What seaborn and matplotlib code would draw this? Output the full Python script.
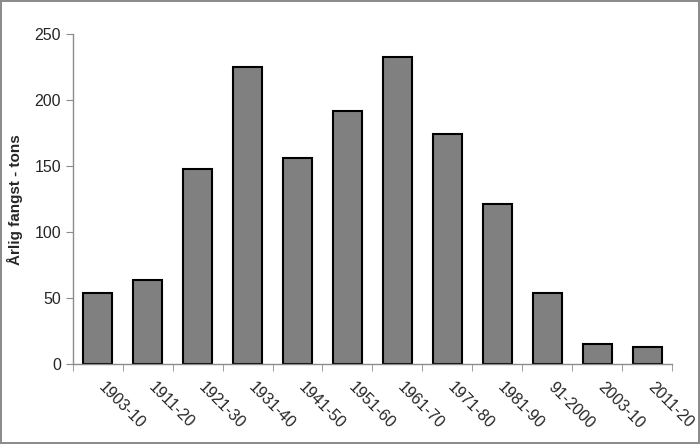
import numpy as np
import pandas as pd
import seaborn as sns
import matplotlib.pyplot as plt
import matplotlib.transforms as mtransforms
from matplotlib.ticker import FixedLocator

periods = ["1903-10", "1911-20", "1921-30", "1931-40", "1941-50", "1951-60",
           "1961-70", "1971-80", "1981-90", "91-2000", "2003-10", "2011-20"]
catch_tons = [54, 64, 148, 225, 156, 192, 233, 174, 121, 54, 15, 13]

df = pd.DataFrame({"periode": periods, "fangst": catch_tons})

sns.set_style("white")
plt.rcParams["font.family"] = ["Liberation Sans", "DejaVu Sans"]

fig = plt.figure(figsize=(7, 4.44), dpi=100, edgecolor="#8c8c8c", linewidth=1.5)
ax = fig.add_axes([0.104, 0.180, 0.856, 0.743])

sns.barplot(data=df, x="periode", y="fangst", color="#808080", saturation=1,
            edgecolor="black", linewidth=1.5, width=0.58, ax=ax)

ax.set_xlim(-0.5, len(periods) - 0.5)
ax.set_ylim(0, 250)
ax.set_yticks(np.arange(0, 251, 50))
ax.set_xlabel("")
ax.set_ylabel("Årlig fangst - tons", fontsize=11, fontweight="bold", labelpad=8)

for side in ["top", "right"]:
    ax.spines[side].set_visible(False)
for side in ["left", "bottom"]:
    ax.spines[side].set_color("#8c8c8c")
    ax.spines[side].set_linewidth(1)

ax.tick_params(axis="y", direction="out", length=5, color="#8c8c8c", labelsize=11.5, left=True)
ax.tick_params(axis="x", which="major", length=0, labelsize=11.5, pad=11)
ax.xaxis.set_minor_locator(FixedLocator(np.arange(-0.5, len(periods), 1.0)))
ax.tick_params(axis="x", which="minor", direction="out", length=5, color="#8c8c8c", bottom=True)

# shift rotated labels so they start at the category centre, like the original
shift = mtransforms.ScaledTranslation(6 / 72, 0, fig.dpi_scale_trans)
for lbl in ax.get_xticklabels():
    lbl.set_rotation(-45)
    lbl.set_ha("left")
    lbl.set_rotation_mode("anchor")
    lbl.set_transform(lbl.get_transform() + shift)

fig.savefig("out.png", dpi=100)
